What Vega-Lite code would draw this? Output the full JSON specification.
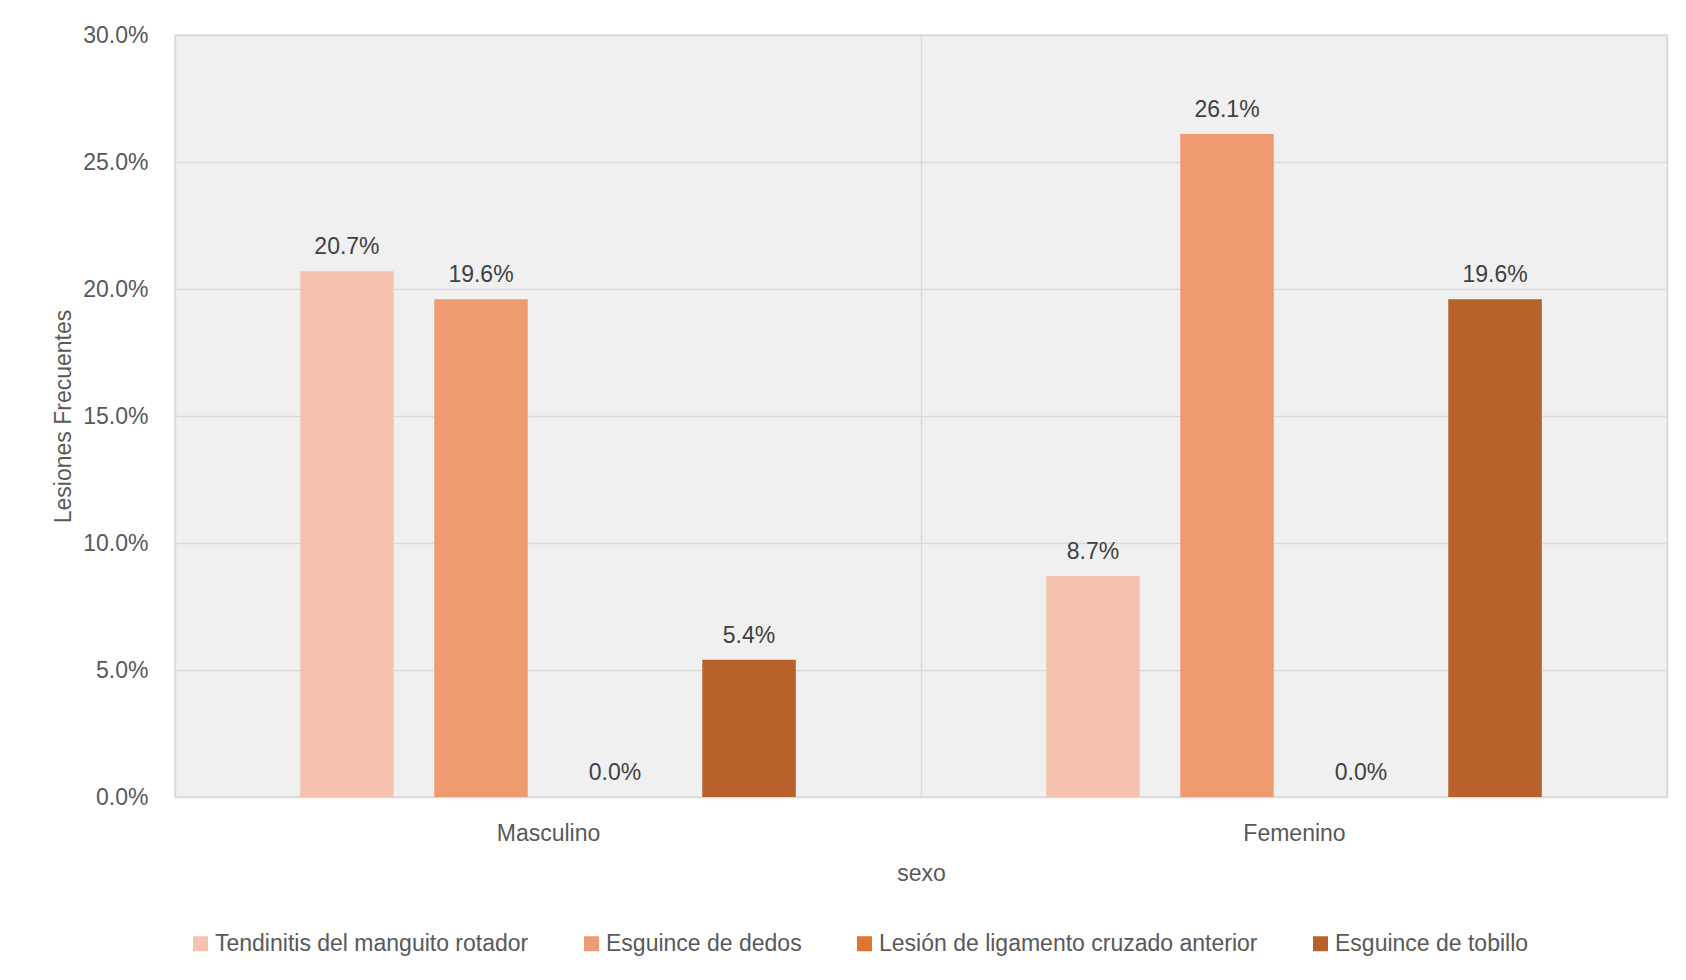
{
  "$schema": "https://vega.github.io/schema/vega-lite/v6.json",
  "autosize": "none",
  "width": 1492,
  "height": 762,
  "padding": {"left": 175, "top": 35, "right": 19, "bottom": 183},
  "background": "white",
  "data": {
    "values": [
      {"sexo": "Masculino", "lesion": "Tendinitis del manguito rotador", "valor": 0.207},
      {"sexo": "Masculino", "lesion": "Esguince de dedos", "valor": 0.196},
      {"sexo": "Masculino", "lesion": "Lesión de ligamento cruzado anterior", "valor": 0.0},
      {"sexo": "Masculino", "lesion": "Esguince de tobillo", "valor": 0.054},
      {"sexo": "Femenino", "lesion": "Tendinitis del manguito rotador", "valor": 0.087},
      {"sexo": "Femenino", "lesion": "Esguince de dedos", "valor": 0.261},
      {"sexo": "Femenino", "lesion": "Lesión de ligamento cruzado anterior", "valor": 0.0},
      {"sexo": "Femenino", "lesion": "Esguince de tobillo", "valor": 0.196}
    ]
  },
  "encoding": {
    "x": {
      "field": "sexo",
      "type": "nominal",
      "sort": ["Masculino", "Femenino"],
      "scale": {"paddingInner": 0, "paddingOuter": 0},
      "axis": {
        "title": "sexo",
        "labelAngle": 0,
        "ticks": false,
        "tickSize": 0,
        "domain": false,
        "grid": true,
        "tickBand": "extent",
        "gridColor": "#d9d9d9",
        "gridWidth": 1.5,
        "labelPadding": 25,
        "titlePadding": 17
      }
    },
    "xOffset": {
      "field": "lesion",
      "type": "nominal",
      "sort": ["Tendinitis del manguito rotador", "Esguince de dedos", "Lesión de ligamento cruzado anterior", "Esguince de tobillo"],
      "scale": {"paddingInner": 0.302, "paddingOuter": 0.934}
    },
    "y": {
      "field": "valor",
      "type": "quantitative",
      "scale": {"domain": [0, 0.3], "nice": false},
      "axis": {
        "title": "Lesiones Frecuentes",
        "format": ".1%",
        "values": [0, 0.05, 0.1, 0.15, 0.2, 0.25, 0.3],
        "ticks": false,
        "tickSize": 0,
        "domain": false,
        "gridColor": "#d9d9d9",
        "gridWidth": 1.5,
        "labelPadding": 27,
        "titlePadding": 7
      }
    }
  },
  "layer": [
    {
      "mark": {"type": "bar"},
      "encoding": {
        "color": {
          "field": "lesion",
          "type": "nominal",
          "sort": ["Tendinitis del manguito rotador", "Esguince de dedos", "Lesión de ligamento cruzado anterior", "Esguince de tobillo"],
          "scale": {
            "domain": ["Tendinitis del manguito rotador", "Esguince de dedos", "Lesión de ligamento cruzado anterior", "Esguince de tobillo"],
            "range": ["#f5c2b0", "#f09a72", "#df7530", "#b8612a"]
          },
          "legend": {
            "title": null,
            "orient": "none",
            "direction": "horizontal",
            "columns": 4,
            "legendX": 14,
            "legendY": 897,
            "padding": 0,
            "symbolType": "square",
            "symbolSize": 225,
            "symbolStrokeWidth": 0,
            "labelOffset": 3,
            "columnPadding": 51,
            "labelFontSize": 23,
            "labelColor": "#595959",
            "labelFont": "Liberation Sans, Arial, sans-serif",
            "labelLimit": 600
          }
        }
      }
    },
    {
      "mark": {
        "type": "text",
        "baseline": "bottom",
        "dy": -12,
        "fontSize": 23,
        "color": "#404040",
        "font": "Liberation Sans, Arial, sans-serif"
      },
      "encoding": {
        "text": {"field": "valor", "type": "quantitative", "format": ".1%"}
      }
    }
  ],
  "config": {
    "view": {"fill": "#f0f0f0", "stroke": "#d9d9d9", "strokeWidth": 1.5},
    "axis": {
      "labelFont": "Liberation Sans, Arial, sans-serif",
      "titleFont": "Liberation Sans, Arial, sans-serif",
      "labelFontSize": 23,
      "titleFontSize": 23,
      "titleFontWeight": "normal",
      "labelColor": "#595959",
      "titleColor": "#595959"
    }
  }
}
